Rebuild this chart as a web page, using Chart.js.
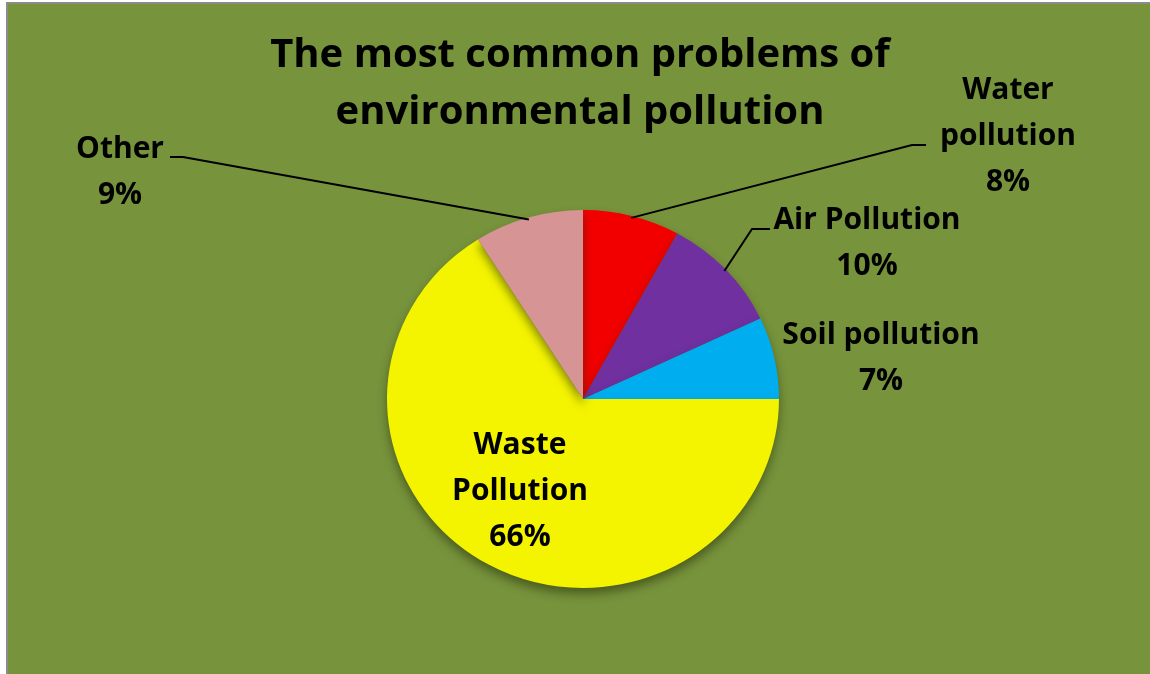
<!DOCTYPE html>
<html>
<head>
<meta charset="utf-8">
<script src="https://cdn.jsdelivr.net/npm/chart.js@4/dist/chart.umd.min.js"></script>
<style>
  html, body { margin: 0; padding: 0; background: #ffffff; }
  #wrap {
    position: absolute; left: 6px; top: 2px;
    width: 1144px; height: 672px;
    border-left: 2px solid #8c8c8c; border-top: 2px solid #8c8c8c;
    background: #77933c;
  }
  #wrap canvas { display: block; }
</style>
</head>
<body>
<div id="wrap"><canvas id="pie" width="1142" height="670"></canvas></div>
<script>
// chart data
const titleLines = ["The most common problems of", "environmental pollution"];
const categories = [["Water", "pollution"], "Air Pollution", "Soil pollution", ["Waste", "Pollution"], "Other"];
const shares = [8, 10, 7, 66, 9];
const sliceColors = ["#f20000", "#7030a0", "#00aeef", "#f4f400", "#d69495"];

// where the labels sit (canvas coords), leader = short horizontal tick then line to slice
const labelLayout = [
  { x: 1000, y: 86, leader: { from: [918, 141], elbow: 904 } },
  { x: 859, y: 216, leader: { from: [762, 225], elbow: 744 } },
  { x: 873, y: 331 },
  { x: 512, y: 441 },
  { x: 112, y: 145, leader: { from: [162, 153], elbow: 175 } },
];

const FONT = "'Open Sans', Lato, sans-serif";
const STRETCH_X = 1.037; // pie is a touch wider than tall in the picture

const labelsPlugin = {
  id: "pieLabels",
  beforeDatasetsDraw(chart) {
    const ctx = chart.ctx;
    const a = chart.chartArea;
    const cx = (a.left + a.right) / 2;
    ctx.save();
    ctx.translate(cx, 0);
    ctx.scale(STRETCH_X, 1);
    ctx.translate(-cx, 0);
    ctx.shadowColor = "rgba(40,50,10,0.55)";
    ctx.shadowBlur = 10;
    ctx.shadowOffsetY = 6;
  },
  afterDatasetsDraw(chart) {
    const ctx = chart.ctx;
    ctx.restore();

    // title
    ctx.save();
    ctx.fillStyle = "#000";
    ctx.textAlign = "center";
    ctx.textBaseline = "middle";
    ctx.font = "bold 40px " + FONT;
    titleLines.forEach((t, i) => ctx.fillText(t, 572, 52 + i * 57));

    // slice labels + leaders
    const arcs = chart.getDatasetMeta(0).data;
    ctx.font = "bold 30px " + FONT;
    arcs.forEach((arc, i) => {
      const lay = labelLayout[i];
      const lines = [].concat(categories[i], [shares[i] + "%"]);
      lines.forEach((t, j) => ctx.fillText(t, lay.x, lay.y + j * 46));

      if (lay.leader) {
        const p = arc.getProps(["x", "y", "startAngle", "endAngle", "outerRadius"], true);
        const mid = (p.startAngle + p.endAngle) / 2;
        const ex = p.x + Math.cos(mid) * (p.outerRadius - 2) * STRETCH_X;
        const ey = p.y + Math.sin(mid) * (p.outerRadius - 2);
        ctx.beginPath();
        ctx.strokeStyle = "#000";
        ctx.lineWidth = 2;
        ctx.moveTo(lay.leader.from[0], lay.leader.from[1]);
        ctx.lineTo(lay.leader.elbow, lay.leader.from[1]);
        ctx.lineTo(ex, ey);
        ctx.stroke();
      }
    });
    ctx.restore();
  }
};

new Chart(document.getElementById("pie"), {
  type: "pie",
  data: {
    labels: categories,
    datasets: [{
      data: shares,
      backgroundColor: sliceColors,
      borderWidth: 0,
    }]
  },
  options: {
    responsive: false,
    animation: false,
    layout: { padding: { left: 386, right: 378, top: 206, bottom: 86 } },
    plugins: {
      legend: { display: false },
      tooltip: { enabled: false },
      title: { display: false }
    }
  },
  plugins: [labelsPlugin]
});
</script>
</body>
</html>
